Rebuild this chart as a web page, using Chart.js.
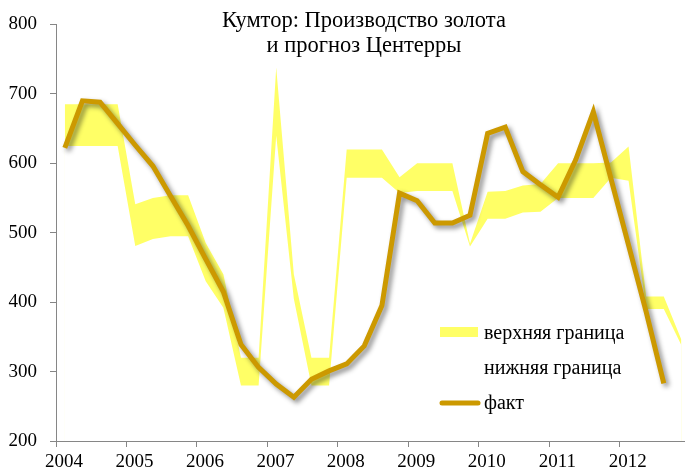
<!DOCTYPE html>
<html>
<head>
<meta charset="utf-8">
<script src="https://cdn.jsdelivr.net/npm/chart.js@4.4.0/dist/chart.umd.min.js"></script>
<style>
  html, body { margin: 0; padding: 0; background: #fff; }
</style>
</head>
<body>
<canvas id="goldChart" width="685" height="476"></canvas>
<script>
// ===== DATA =====
const quarters = [
  '2004 Q1','2004 Q2','2004 Q3','2004 Q4',
  '2005 Q1','2005 Q2','2005 Q3','2005 Q4',
  '2006 Q1','2006 Q2','2006 Q3','2006 Q4',
  '2007 Q1','2007 Q2','2007 Q3','2007 Q4',
  '2008 Q1','2008 Q2','2008 Q3','2008 Q4',
  '2009 Q1','2009 Q2','2009 Q3','2009 Q4',
  '2010 Q1','2010 Q2','2010 Q3','2010 Q4',
  '2011 Q1','2011 Q2','2011 Q3','2011 Q4',
  '2012 Q1','2012 Q2','2012 Q3','2012 Q4'
];

const upperBound = [685, 685, 685, 685, 541, 550, 554, 554, 485, 440, 320, 320,
                    738, 440, 320, 320, 620, 620, 620, 580, 600, 600, 600, 484,
                    559, 560, 568, 570, 600, 600, 600, 601, 624, 408, 408, 346];

const lowerBound = [625, 625, 625, 625, 481, 491, 495, 495, 430, 392, 280, 280,
                    640, 405, 280, 280, 579, 579, 579, 557, 560, 560, 560, 480,
                    520, 520, 529, 530, 550, 550, 550, 579, 575, 390, 390, 338];

const actual = [622, 690, 688, 657, 626, 596, 553, 510, 462, 415, 339, 306,
                282, 263, 289, 301, 311, 337, 395, 557, 546, 514, 514, 525,
                643, 652, 588, 569, 551, 605, 674, 578, 482, 386, 283];

const yearTicks = [2004, 2005, 2006, 2007, 2008, 2009, 2010, 2011, 2012];

const titleLines = ['Кумтор: Производство золота', 'и прогноз Центерры'];
const seriesNames = ['верхняя граница', 'нижняя граница', 'факт'];

// ===== HELPERS =====
function quarterPos(label) {
  let parts = label.split(' Q');
  return Number(parts[0]) + (Number(parts[1]) - 0.5) / 4;
}

function toPoints(values) {
  return values.map((v, i) => ({ x: quarterPos(quarters[i]), y: v }));
}

const YELLOW = '#FFFF66';
const GOLD = '#CC9900';
const AXIS = '#868686';
const SERIF = '"Liberation Serif", "Times New Roman", serif';

// ===== PLUGINS =====
const lineShadow = {
  id: 'lineShadow',
  beforeDatasetDraw(chart, args) {
    if (args.index !== 2) return;
    let ctx = chart.ctx;
    ctx.save();
    ctx.shadowColor = 'rgba(0,0,0,0.45)';
    ctx.shadowBlur = 5;
    ctx.shadowOffsetX = 3;
    ctx.shadowOffsetY = 3;
  },
  afterDatasetDraw(chart, args) {
    if (args.index !== 2) return;
    chart.ctx.restore();
  }
};

const overlay = {
  id: 'overlay',
  afterDraw(chart) {
    let ctx = chart.ctx;
    ctx.save();
    ctx.fillStyle = '#000';
    ctx.textBaseline = 'alphabetic';

    // title
    ctx.font = '22.5px ' + SERIF;
    ctx.textAlign = 'center';
    ctx.fillText(titleLines[0], 364, 27);
    ctx.fillText(titleLines[1], 364, 52);

    // legend
    ctx.font = '20px ' + SERIF;
    ctx.textAlign = 'left';
    ctx.fillStyle = YELLOW;
    ctx.fillRect(440, 327, 38, 10);

    ctx.strokeStyle = GOLD;
    ctx.lineWidth = 5;
    ctx.lineCap = 'round';
    ctx.beginPath();
    ctx.moveTo(442, 403);
    ctx.lineTo(478, 403);
    ctx.stroke();

    ctx.fillStyle = '#000';
    ctx.fillText(seriesNames[0], 484, 339);
    ctx.fillText(seriesNames[1], 484, 374);
    ctx.fillText(seriesNames[2], 484, 409);
    ctx.restore();
  }
};

// ===== CHART =====
new Chart(document.getElementById('goldChart'), {
  type: 'line',
  data: {
    datasets: [
      {
        label: seriesNames[0],
        data: toPoints(upperBound),
        backgroundColor: YELLOW,
        borderColor: 'rgba(0,0,0,0)',
        borderWidth: 0,
        pointRadius: 0,
        fill: 'start',
        order: 3
      },
      {
        label: seriesNames[1],
        data: toPoints(lowerBound),
        backgroundColor: '#ffffff',
        borderColor: 'rgba(0,0,0,0)',
        borderWidth: 0,
        pointRadius: 0,
        fill: 'start',
        order: 2
      },
      {
        label: seriesNames[2],
        data: toPoints(actual),
        borderColor: GOLD,
        borderWidth: 5,
        borderJoinStyle: 'miter',
        pointRadius: 0,
        fill: false,
        order: 1
      }
    ]
  },
  options: {
    responsive: false,
    animation: false,
    devicePixelRatio: 1,
    layout: { padding: { top: 20, right: 0, left: 0, bottom: 0 } },
    plugins: {
      legend: { display: false },
      title: { display: false },
      tooltip: { enabled: false }
    },
    scales: {
      x: {
        type: 'linear',
        min: yearTicks[0],
        max: 2012.926,
        afterFit(scale) { scale.height = 35; },
        afterBuildTicks(scale) {
          scale.ticks = yearTicks.map(v => ({ value: v }));
        },
        ticks: {
          stepSize: 1,
          includeBounds: false,
          autoSkip: false,
          maxRotation: 0,
          labelOffset: 8,
          padding: 4,
          color: '#000',
          font: { family: SERIF, size: 19 },
          callback: v => String(v)
        },
        grid: { drawOnChartArea: false, tickLength: 6, color: AXIS },
        border: { color: AXIS, width: 1 }
      },
      y: {
        min: 200,
        max: 800,
        afterFit(scale) { scale.width = 56; },
        ticks: {
          stepSize: 100,
          padding: 13,
          color: '#000',
          font: { family: SERIF, size: 19 }
        },
        grid: { drawOnChartArea: false, tickLength: 6, color: AXIS },
        border: { color: AXIS, width: 1 }
      }
    }
  },
  plugins: [lineShadow, overlay]
});
</script>
</body>
</html>
